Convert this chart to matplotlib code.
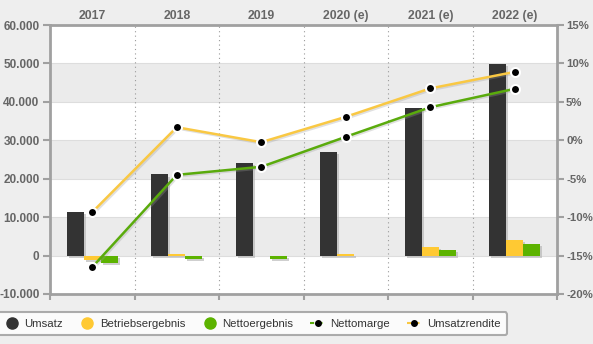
import matplotlib.pyplot as plt
import matplotlib.patheffects as pe
from matplotlib.lines import Line2D
import numpy as np

plt.rcParams['font.family'] = ['Liberation Sans', 'DejaVu Sans']

years = ['2017', '2018', '2019', '2020 (e)', '2021 (e)', '2022 (e)']
umsatz = [11400, 21100, 24200, 26900, 38400, 49900]
betriebsergebnis = [-1100, 400, 0, 450, 2300, 4150]
nettoergebnis = [-2000, -900, -900, -200, 1550, 3100]
nettomarge = [-16.5, -4.5, -3.45, 0.45, 4.3, 6.7]
umsatzrendite = [-9.35, 1.7, -0.25, 3.05, 6.75, 8.9]

c_umsatz = '#333333'
c_betrieb = '#ffc933'
c_netto = '#5cb300'
c_line_y = '#f9c843'
c_line_g = '#5aab0c'
bg = '#eeeeee'
axis_gray = '#a0a0a0'
txt_gray = '#666666'

fig = plt.figure(figsize=(5.93, 3.44), dpi=100)
fig.patch.set_facecolor(bg)
ax = fig.add_axes([50 / 593, 50 / 344, 507 / 593, 269 / 344])
ax.set_facecolor('white')

x = np.arange(len(years))
w = 0.2

# alternating background bands
for lo in (40000, 20000, 0):
    ax.axhspan(lo, lo + 10000, color='#ebebeb', zorder=0, lw=0)
for yv in range(-10000, 60001, 10000):
    ax.axhline(yv, color='#dddddd', lw=0.8, zorder=0.5)
for b in np.arange(0.5, len(years) - 0.5):
    ax.axvline(b, color='#999999', lw=0.8, ls=(0, (1, 3)), zorder=0.6)

shadow = [pe.SimplePatchShadow(offset=(1.5, -1.5), shadow_rgbFace='#b0b0b0', alpha=0.6), pe.Normal()]
for vals, off, col in ((umsatz, -w, c_umsatz), (betriebsergebnis, 0, c_betrieb), (nettoergebnis, w, c_netto)):
    bars = ax.bar(x + off, vals, width=w, color=col, zorder=2)
    for r in bars:
        r.set_path_effects(shadow)

ax.set_xlim(-0.5, len(years) - 0.5)
ax.set_ylim(-10000, 60000)
ax.set_yticks(range(-10000, 60001, 10000))
ax.set_yticklabels([f'{v:,}'.replace(',', '.') for v in range(-10000, 60001, 10000)])

ax.set_xticks(x)
ax.set_xticklabels(years)
ax.set_xticks(np.arange(-0.5, len(years)), minor=True)
ax.tick_params(axis='x', which='major', bottom=False, top=False, length=0, labelbottom=False,
               labeltop=True, labelsize=8.8, labelcolor=txt_gray, pad=2.5)
ax.tick_params(axis='x', which='minor', bottom=True, length=4, width=1.5, color=axis_gray)
ax.tick_params(axis='y', length=5, width=1.5, color=axis_gray, labelsize=8.5, labelcolor=txt_gray, pad=2.5)
for lbl in ax.get_xticklabels() + ax.get_yticklabels():
    lbl.set_fontweight('bold')

for side in ('left', 'bottom', 'right', 'top'):
    ax.spines[side].set_color(axis_gray)
    ax.spines[side].set_linewidth(2)

ax2 = ax.twinx()
ax2.set_ylim(-20, 15)
ax2.set_yticks(range(-20, 16, 5))
ax2.set_yticklabels([f'{v}%' for v in range(-20, 16, 5)])
ax2.tick_params(axis='y', length=5, width=1.5, color=axis_gray, labelsize=8.2, labelcolor=txt_gray, pad=1.5)
for lbl in ax2.get_yticklabels():
    lbl.set_fontweight('bold')
for side in ax2.spines:
    ax2.spines[side].set_visible(False)

line_fx = [pe.SimpleLineShadow(offset=(1, -1), shadow_color='#999999', alpha=0.3), pe.Normal()]
for vals, col in ((umsatzrendite, c_line_y), (nettomarge, c_line_g)):
    ax2.plot(x, vals, color=col, lw=1.8, zorder=3, path_effects=line_fx)
    ax2.plot(x, vals, ls='none', marker='o', ms=6.5, mfc='black', mec='white', mew=1.5, zorder=4)

handles = [
    Line2D([], [], ls='none', marker='o', ms=8, mfc=c_umsatz, mec=c_umsatz),
    Line2D([], [], ls='none', marker='o', ms=8, mfc=c_betrieb, mec=c_betrieb),
    Line2D([], [], ls='none', marker='o', ms=8, mfc=c_netto, mec=c_netto),
    Line2D([], [], color=c_line_g, ls=(0, (2, 2)), lw=1.5, marker='o', ms=4, mfc='black', mec='black'),
    Line2D([], [], color=c_line_y, ls=(0, (2, 2)), lw=1.5, marker='o', ms=4, mfc='black', mec='black'),
]
labels = ['Umsatz', 'Betriebsergebnis', 'Nettoergebnis', 'Nettomarge', 'Umsatzrendite']
leg = fig.legend(handles, labels, loc='lower left', bbox_to_anchor=(-2 / 593, 9 / 344), ncol=5,
                 fontsize=8.2, frameon=True, fancybox=True, handlelength=1.3, handletextpad=0.45,
                 columnspacing=1.5, borderpad=0.55, borderaxespad=0, labelcolor='#333333')
leg.get_frame().set_edgecolor('#999999')
leg.get_frame().set_linewidth(1.5)
leg.get_frame().set_facecolor('white')

fig.savefig('out.png', dpi=100, facecolor=bg)
